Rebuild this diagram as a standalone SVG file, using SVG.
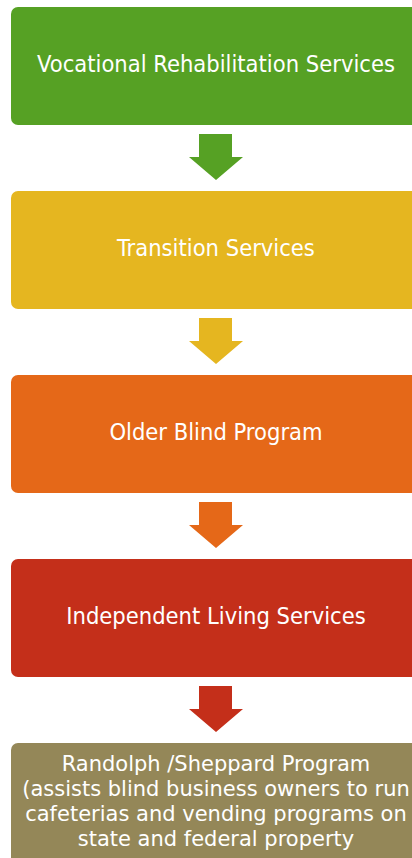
<svg xmlns="http://www.w3.org/2000/svg" width="412" height="858" viewBox="0 0 412 858">
<style>
.t{font-family:"DejaVu Sans Condensed","DejaVu Sans",sans-serif;font-stretch:condensed;font-size:23.5px;fill:#ffffff;text-anchor:middle}
.s{font-family:"DejaVu Sans",sans-serif;font-size:21px;fill:#ffffff;text-anchor:middle}
</style>
<defs>
<path id="arr" d="M-17,0 H16 V23 H27 L0,46 L-27,23 H-17 Z"/>
</defs>
<rect width="412" height="858" fill="#ffffff"/>
<g id="connectors">
<use href="#arr" x="216" y="134" fill="#56a124"/>
<use href="#arr" x="216" y="318" fill="#e5b620"/>
<use href="#arr" x="216" y="502" fill="#e56818"/>
<use href="#arr" x="216" y="686" fill="#c42f1a"/>
</g>
<g id="n1">
<rect x="11" y="7" width="410" height="118" rx="7" fill="#56a124"/>
<text class="t" x="216" y="72">Vocational Rehabilitation Services</text>
</g>
<g id="n2">
<rect x="11" y="191" width="410" height="118" rx="7" fill="#e5b620"/>
<text class="t" x="216" y="256">Transition Services</text>
</g>
<g id="n3">
<rect x="11" y="375" width="410" height="118" rx="7" fill="#e56818"/>
<text class="t" x="216" y="440">Older Blind Program</text>
</g>
<g id="n4">
<rect x="11" y="559" width="410" height="118" rx="7" fill="#c42f1a"/>
<text class="t" x="216" y="624">Independent Living Services</text>
</g>
<g id="n5">
<rect x="11" y="743" width="410" height="130" rx="7" fill="#948758"/>
<text class="s" x="216" y="771">Randolph /Sheppard Program</text>
<text class="s" x="216" y="796">(assists blind business owners to run</text>
<text class="s" x="216" y="821">cafeterias and vending programs on</text>
<text class="s" x="216" y="846">state and federal property</text>
</g>
</svg>
